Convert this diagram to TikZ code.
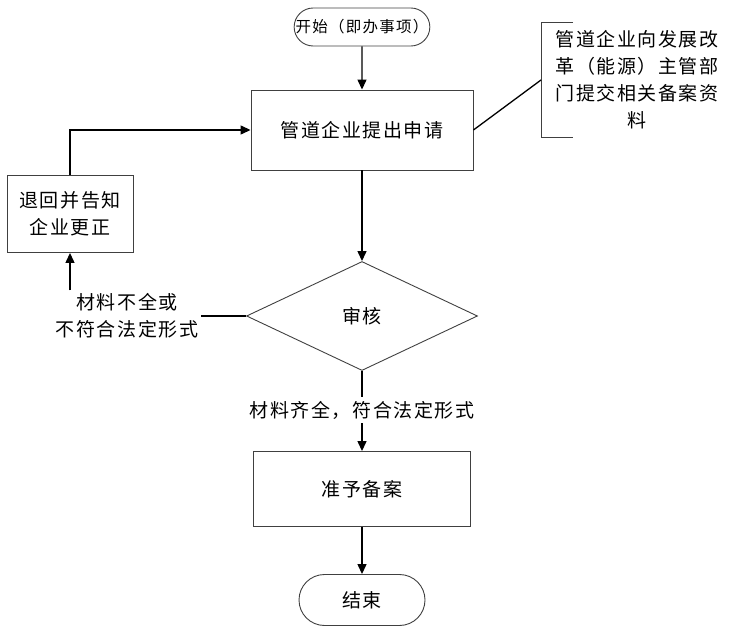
\documentclass[tikz,border=0pt]{standalone}
\usepackage{fontspec}
\setmainfont{Noto Sans CJK SC}[LetterSpace=8]
\usetikzlibrary{shapes.geometric, shapes.misc, arrows.meta, positioning}
\definecolor{edgegray}{HTML}{404040}

\begin{document}
\begin{tikzpicture}[
  x=1pt, y=-1pt,
  font=\fontsize{19}{27}\selectfont,
  stepbox/.style={rectangle, draw=edgegray, line width=0.9pt, minimum width=#1, align=center, inner sep=0pt},
  terminal/.style={rounded rectangle, draw=edgegray, line width=0.9pt, minimum width=126pt, minimum height=#1, inner sep=0pt},
  decision/.style={diamond, draw=edgegray, line width=0.9pt, minimum width=231pt, minimum height=109pt, inner sep=0pt},
  flow/.style={line width=1.3pt, -{Triangle[length=10pt, width=9pt]}},
  plain/.style={line width=1.3pt}
]
  \useasboundingbox (0,0) rectangle (734,636);

  % main column
  \node[terminal=38pt, minimum width=131pt, font=\fontsize{15.5}{18}\selectfont] (start) at (362,27) {开始（即办事项）};
  \node[stepbox=222pt, minimum height=80pt] (apply) at (362,130) {管道企业提出申请};
  \node[decision] (check) at (362,316) {审核};
  \node[inner sep=4pt] (pass) at (362,410) {材料齐全，符合法定形式};
  \node[stepbox=217pt, minimum height=75pt] (approve) at (362,489) {准予备案};
  \node[terminal=51pt] (stop) at (362,600) {结束};

  % return branch
  \node[stepbox=126pt, minimum height=77pt] (back) at (70,214) {退回并告知\\企业更正};
  \node[align=center, inner sep=3pt] (fail) at (127,316) {材料不全或\\不符合法定形式};

  % annotation
  \node[align=center] (note) at (637,80) {管道企业向发展改\\革（能源）主管部\\门提交相关备案资\\料};
  \coordinate (brmid) at (541,80);
  \draw[line width=0.9pt, edgegray] (573,22) -| (541,137) -- (573,137);

  % connections
  \draw[flow] (start) -- (apply);
  \draw[flow] (apply) -- (check);
  \draw[plain] (check.south) -- (pass.north);
  \draw[flow] (pass.south) -- (approve.north);
  \draw[flow] (approve) -- (stop);
  \draw[plain] (check.west) -- (fail.east);
  \draw[flow] (fail.north -| back) -- (back.south);
  \draw[flow] (back.north) |- (apply.west);
  \draw[plain] (apply.east) -- (brmid);
\end{tikzpicture}
\end{document}
